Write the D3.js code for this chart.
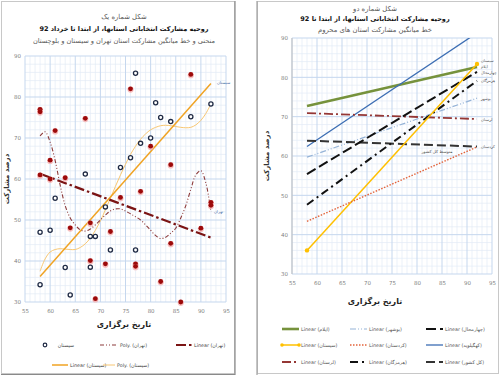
<!DOCTYPE html>
<html><head><meta charset="utf-8">
<script src="https://cdn.jsdelivr.net/npm/d3@7"></script>
<style>
html,body{margin:0;padding:0;background:#fff;}
svg text{font-family:"DejaVu Sans",sans-serif;}
</style></head>
<body>
<svg id="c" width="500" height="378"></svg>
<script>
// ---------- DATA: chart 1 ----------
const xTicks = [55,60,65,70,75,80,85,90,95];
const yTicks = [30,40,50,60,70,80,90];
const sistanX = [77,81,82,84,88,92,80,78,76,74,67,61,71,58,60,68,69,72,77,63,68,58,64];
const sistanY = [85.8,78.6,75,74,75.2,78.3,70,68.7,65.2,62.8,61.2,55.3,53.2,47,47.5,46,46,42.7,42.7,38.4,38.5,34.2,31.7];
const tehranX = [58,58,61,67,76,88,60,58,60,63,80,84,74,78,92,92,64,68,72,90,84,68,71,77,77,82,69,86];
const tehranY = [77,76.4,71.8,74.8,82,85.5,64.6,61,60,60.3,68,63.5,55.5,57,54.3,53.6,48.1,49.3,47.2,48,44.3,40.1,39.3,39.3,38.7,35,30.8,30];
const trendX = [58,92];
const tehranLinear = [61.3,45.7];
const sistanLinear = [36.2,83.3];
const polyX = [58,59,60,61,62,63,64,65,66,67,68,69,70,71,72,73,74,75,76,77,78,79,80,81,82,83,84,85,86,87,88,89,90,91,92];
const tehranPoly = [70.5,71.5,69,64.5,58.5,53.5,50.5,48.8,47.6,47.3,47.8,48.8,50,51.2,52.2,52.7,52.7,52.2,51.5,50.8,50,48.8,47.5,46.2,45.5,45.8,46.8,48,50.5,53.5,57.5,61,62,59,52];
const sistanPoly = [37.5,40.5,42.2,42.8,43,42.9,42.8,42.8,43.3,44.2,45.6,47.5,49.8,52.5,55.3,58.2,61,63.6,66,68,69.7,71,72,72.6,73,73.1,73,72.8,72.6,72.5,72.6,73.2,74.3,76,78.3];

// ---------- DATA: chart 2 ----------
const provinces = ["ایلام","کهگیلویه","لرستان","بوشهر","کل کشور","چهارمحال","هرمزگان","سیستان","کردستان"];
const provStart = [72.7,62.4,70.9,59.7,63.9,55.4,47.6,36.0,43.4];
const provEnd   = [82.6,91.3,69.4,74.7,62.4,81.4,79.1,83.4,62.3];

const svg = d3.select("#c");
const GRID_MAJ = "#c5d7ee", GRID_MIN = "#e3ebf6", TICK_C = "#7f7f7f";

// panels
svg.append("rect").attr("x",1.5).attr("y",1.5).attr("width",233).attr("height",372).attr("fill","#fff").attr("stroke","#c8c8c8");
svg.append("line").attr("x1",235).attr("x2",235).attr("y1",1).attr("y2",375).attr("stroke","#8a8a8a").attr("stroke-width",1.2);
svg.append("line").attr("x1",1).attr("x2",235).attr("y1",374.5).attr("y2",374.5).attr("stroke","#8a8a8a").attr("stroke-width",1);
svg.append("rect").attr("x",257.5).attr("y",1.5).attr("width",241).attr("height",372).attr("fill","#fff").attr("stroke","#c8c8c8");
svg.append("line").attr("x1",257).attr("x2",257).attr("y1",1).attr("y2",375).attr("stroke","#a0a0a0").attr("stroke-width",1.2);

function grid(g,x,y,minorY){
  d3.range(55,96,1).forEach(v=>{ if(v%5) g.append("line").attr("x1",x(v)).attr("x2",x(v)).attr("y1",y(30)).attr("y2",y(90)).attr("stroke",GRID_MIN).attr("stroke-width",0.7);});
  d3.range(30,91,minorY).forEach(v=>{ if(v%10) g.append("line").attr("y1",y(v)).attr("y2",y(v)).attr("x1",x(55)).attr("x2",x(95)).attr("stroke",GRID_MIN).attr("stroke-width",0.7);});
  xTicks.forEach(v=>g.append("line").attr("x1",x(v)).attr("x2",x(v)).attr("y1",y(30)).attr("y2",y(90)).attr("stroke",GRID_MAJ).attr("stroke-width",1));
  yTicks.forEach(v=>g.append("line").attr("y1",y(v)).attr("y2",y(v)).attr("x1",x(55)).attr("x2",x(95)).attr("stroke",GRID_MAJ).attr("stroke-width",1));
}
function axes(g,x,y){
  const ax = g.append("g").attr("transform",`translate(0,${y(30)+7})`).call(d3.axisBottom(x).tickValues(xTicks).tickSize(0).tickPadding(0));
  ax.select(".domain").remove();
  ax.selectAll("text").attr("fill",TICK_C).style("font-size","5.5px");
  const ay = g.append("g").attr("transform",`translate(${x(55)-4},0)`).call(d3.axisLeft(y).tickValues(yTicks).tickSize(0).tickPadding(0));
  ay.select(".domain").remove();
  ay.selectAll("text").attr("fill",TICK_C).style("font-size","5.5px");
}
function titles(cx,ys,lines,sizes,weights,colors){
  lines.forEach((t,i)=>svg.append("text").attr("x",cx).attr("y",ys[i]).attr("text-anchor","middle").attr("direction","rtl")
    .style("font-size",sizes[i]+"px").style("font-weight",weights[i]).attr("fill",colors[i]).text(t));
}

// ---------- chart 1 ----------
const x1 = d3.scaleLinear().domain([55,95]).range([25,226]);
const y1 = d3.scaleLinear().domain([30,90]).range([302,56]);
const g1 = svg.append("g");
grid(g1,x1,y1,2);
axes(g1,x1,y1);
titles(124,[19,31,43],["شکل شماره یک","روحیه مشارکت انتخاباتی استانها، از ابتدا تا خرداد 92","منحنی و خط میانگین مشارکت استان تهران و سیستان و بلوچستان"],[6.8,6.5,6.6],["normal","bold","normal"],["#595959","#111","#595959"]);
svg.append("text").attr("transform",`translate(9,${y1(60)}) rotate(-90)`).attr("text-anchor","middle").style("font-size","7px").style("font-weight","bold").attr("fill","#333").text("درصد مشارکت");
svg.append("text").attr("x",124).attr("y",327).attr("text-anchor","middle").style("font-size","8px").style("font-weight","bold").attr("fill","#222").text("تاریخ برگزاری");

const line1 = d3.line().x(d=>x1(d[0])).y(d=>y1(d[1]));
const lineC1 = d3.line().x(d=>x1(d[0])).y(d=>y1(d[1])).curve(d3.curveCatmullRom);
g1.append("path").attr("d",lineC1(polyX.map((v,i)=>[v,sistanPoly[i]]))).attr("fill","none").attr("stroke","#f8c772").attr("stroke-width",1);
g1.append("path").attr("d",line1(trendX.map((v,i)=>[v,sistanLinear[i]]))).attr("fill","none").attr("stroke","#f0a323").attr("stroke-width",1.5);
g1.append("path").attr("d",lineC1(polyX.map((v,i)=>[v,tehranPoly[i]]))).attr("fill","none").attr("stroke","#8c3a3a").attr("stroke-width",1.1).attr("stroke-dasharray","4,2,1,2,1,2");
g1.append("path").attr("d",line1(trendX.map((v,i)=>[v,tehranLinear[i]]))).attr("fill","none").attr("stroke","#7b1414").attr("stroke-width",2.2).attr("stroke-dasharray","10,3,2.5,3");

// points
tehranX.forEach((v,i)=>{
  g1.append("circle").attr("cx",x1(v)).attr("cy",y1(tehranY[i])+0.8).attr("r",3.1).attr("fill","#f6b0b0").attr("opacity",0.8);
  g1.append("circle").attr("cx",x1(v)).attr("cy",y1(tehranY[i])).attr("r",2.4).attr("fill","#9c0a0a");
});
sistanX.forEach((v,i)=>{
  g1.append("circle").attr("cx",x1(v)).attr("cy",y1(sistanY[i])).attr("r",2.1).attr("fill","#fff").attr("stroke","#1f2a44").attr("stroke-width",1.3);
});
g1.append("text").attr("x",x1(92)+6).attr("y",y1(sistanLinear[1])+1).style("font-size","4px").attr("fill","#4a6fa5").text("سیستان");
g1.append("text").attr("x",x1(92)+3).attr("y",y1(52)+1).style("font-size","4px").attr("fill","#4a6fa5").text("تهران");

// legend 1
const lg1 = svg.append("g").style("font-size","4.8px").attr("fill","#444");
lg1.append("circle").attr("cx",45).attr("cy",345).attr("r",1.8).attr("fill","#fff").attr("stroke","#1f2a44").attr("stroke-width",1.2);
lg1.append("text").attr("x",74).attr("y",347).attr("text-anchor","end").text("سیستان");
lg1.append("line").attr("x1",100).attr("x2",118).attr("y1",345).attr("y2",345).attr("stroke","#8c3a3a").attr("stroke-width",1.1).attr("stroke-dasharray","4,2,1,2,1,2");
lg1.append("text").attr("x",120).attr("y",347).text("Poly. (تهران)");
lg1.append("line").attr("x1",176).attr("x2",192).attr("y1",345).attr("y2",345).attr("stroke","#7b1414").attr("stroke-width",2.2).attr("stroke-dasharray","10,3,2.5,3");
lg1.append("text").attr("x",194).attr("y",347).text("Linear (تهران)");
lg1.append("line").attr("x1",52).attr("x2",68).attr("y1",365).attr("y2",365).attr("stroke","#f0a323").attr("stroke-width",1.5);
lg1.append("text").attr("x",70).attr("y",367).text("Linear (سیستان)");
lg1.append("line").attr("x1",103).attr("x2",115).attr("y1",365).attr("y2",365).attr("stroke","#f8c772").attr("stroke-width",1);
lg1.append("text").attr("x",117).attr("y",367).text("Poly. (سیستان)");

// ---------- chart 2 ----------
const x2 = d3.scaleLinear().domain([55,95]).range([292,492]);
const y2 = d3.scaleLinear().domain([30,90]).range([274,38]);
const g2 = svg.append("g");
grid(g2,x2,y2,2);
g2.append("line").attr("x1",x2(55)).attr("x2",x2(55)).attr("y1",y2(30)).attr("y2",y2(90)).attr("stroke","#bfbfbf");
axes(g2,x2,y2);
titles(375,[11,21,32],["شکل شماره دو","روحیه مشارکت انتخاباتی استانها، از ابتدا تا 92","خط میانگین مشارکت استان های محروم"],[6.8,6.5,6.8],["normal","bold","normal"],["#595959","#111","#595959"]);
svg.append("text").attr("transform",`translate(269,${y2(60)}) rotate(-90)`).attr("text-anchor","middle").style("font-size","7px").style("font-weight","bold").attr("fill","#333").text("درصد مشارکت");
svg.append("text").attr("x",375).attr("y",304).attr("text-anchor","middle").style("font-size","8px").style("font-weight","bold").attr("fill","#222").text("تاریخ برگزاری");

const styles = [
  {c:"#76923c",w:2.6,d:null},
  {c:"#3b6db3",w:1.3,d:null},
  {c:"#953735",w:1.8,d:"9,3,2,3"},
  {c:"#95b3d7",w:1.2,d:"6,2,1,2,1,2"},
  {c:"#333333",w:2,d:"9,4"},
  {c:"#111111",w:2,d:"10,4"},
  {c:"#111111",w:2,d:"8,4,2,4"},
  {c:"#ffc000",w:1.5,d:null},
  {c:"#e3633a",w:1.4,d:"1.5,1.5"}
];
g2.append("clipPath").attr("id","clip2").append("rect").attr("x",x2(55)).attr("y",y2(90)).attr("width",x2(95)-x2(55)).attr("height",y2(30)-y2(90));
const line2 = d3.line().x(d=>x2(d[0])).y(d=>y2(d[1]));
const lg = g2.append("g").attr("clip-path","url(#clip2)");
provinces.forEach((p,i)=>{
  lg.append("path").attr("d",line2([[58,provStart[i]],[92,provEnd[i]]])).attr("fill","none")
    .attr("stroke",styles[i].c).attr("stroke-width",styles[i].w).attr("stroke-dasharray",styles[i].d);
});
[[58,provStart[7]],[92,provEnd[7]]].forEach(d=>g2.append("circle").attr("cx",x2(d[0])).attr("cy",y2(d[1])).attr("r",2.2).attr("fill","#ffc000"));
// end labels
const labTxt = {0:"ایلام",7:"سیستان",5:"چهارمحال",6:"هرمزگان",3:"بوشهر",2:"لرستان",8:"کردستان"};
[[7,-3],[0,-0.5],[5,1],[6,0],[3,0],[2,0],[8,0]].forEach(([i,dy])=>{
  g2.append("text").attr("x",x2(92)+4).attr("y",y2(provEnd[i])+dy+1.5).style("font-size","3.8px").attr("fill","#555").text(labTxt[i]);
});
g2.append("text").attr("x",x2(84)).attr("y",y2(62.4)+6).attr("text-anchor","middle").style("font-size","4.2px").attr("fill","#444").text("متوسط کل کشور");

// legend 2
const legCols = [282,350,426];
const legRows = [329,345,362];
const legOrder = [0,3,5, 7,8,1, 2,6,4];
const lg2 = svg.append("g").style("font-size","4.8px").attr("fill","#555");
legOrder.forEach((pi,k)=>{
  const cx = legCols[k%3], cy = legRows[Math.floor(k/3)];
  lg2.append("line").attr("x1",cx).attr("x2",cx+17).attr("y1",cy).attr("y2",cy)
    .attr("stroke",styles[pi].c).attr("stroke-width",styles[pi].w).attr("stroke-dasharray",styles[pi].d);
  if(pi===7){ lg2.append("circle").attr("cx",cx).attr("cy",cy).attr("r",1.8).attr("fill","#ffc000"); lg2.append("circle").attr("cx",cx+17).attr("cy",cy).attr("r",1.8).attr("fill","#ffc000"); }
  lg2.append("text").attr("x",cx+19).attr("y",cy+1.7).text("Linear (" + provinces[pi] + ")");
});
</script>
</body></html>
